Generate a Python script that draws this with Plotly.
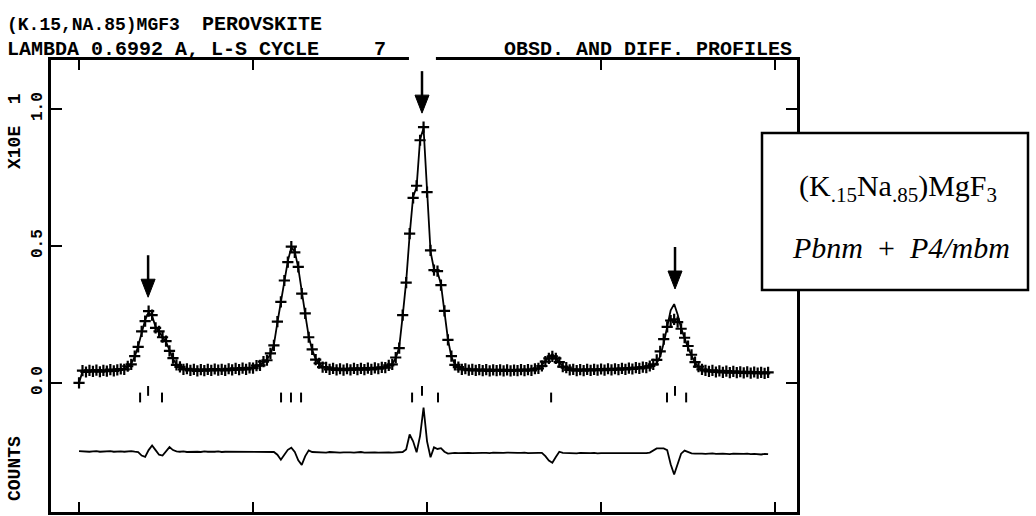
import plotly.graph_objects as go

# Step scan: first position and constant step (one major x tick per unit)
SCAN_START = 0.0
SCAN_STEP = 0.02

# Observed profile (counts x10)
obs_counts = [
    0.000,
    0.045, 0.040, 0.046, 0.042, 0.047, 0.041, 0.046, 0.043, 0.049, 0.044, 0.048,
    0.051, 0.050, 0.061, 0.068, 0.098, 0.132, 0.188, 0.226, 0.262, 0.248,
    0.201, 0.188, 0.167, 0.153, 0.117, 0.091, 0.066, 0.059, 0.050, 0.052,
    0.046, 0.050, 0.044, 0.049, 0.045, 0.050, 0.046, 0.051, 0.047, 0.050,
    0.046, 0.052, 0.048, 0.053, 0.049, 0.054, 0.050, 0.055,
    0.054, 0.063, 0.064, 0.078, 0.083, 0.108, 0.137, 0.224, 0.296, 0.374,
    0.441, 0.498, 0.477, 0.424, 0.326, 0.254, 0.167, 0.123, 0.085, 0.072,
    0.058, 0.057, 0.050,
    0.053, 0.048, 0.052, 0.047, 0.052, 0.048, 0.053, 0.049, 0.053, 0.049,
    0.054, 0.050, 0.055, 0.052,
    0.057, 0.056, 0.064, 0.068, 0.093, 0.127, 0.248, 0.366, 0.545, 0.676,
    0.720, 0.886, 0.934, 0.697, 0.484, 0.412, 0.408, 0.357, 0.263, 0.157,
    0.098, 0.066, 0.058, 0.050,
    0.052, 0.047, 0.050, 0.046, 0.049, 0.045, 0.049, 0.044, 0.048, 0.045,
    0.048, 0.044, 0.048, 0.044, 0.047, 0.045, 0.049, 0.045, 0.049, 0.046,
    0.052, 0.053, 0.062, 0.078, 0.090, 0.097, 0.090, 0.076, 0.060, 0.056, 0.048,
    0.050, 0.045, 0.049, 0.045, 0.050, 0.046, 0.050, 0.047, 0.051, 0.047,
    0.052, 0.048, 0.052, 0.049, 0.053, 0.050, 0.054, 0.051,
    0.056, 0.053, 0.058, 0.056, 0.062, 0.068, 0.084, 0.115, 0.160, 0.205,
    0.228, 0.232, 0.222, 0.198, 0.165, 0.135, 0.103, 0.076, 0.060, 0.050, 0.046,
    0.042, 0.046, 0.040, 0.044, 0.039, 0.043, 0.038, 0.042, 0.038, 0.041,
    0.037, 0.041, 0.036, 0.040, 0.036, 0.039, 0.035, 0.039,
]

# Calculated profile (counts x10)
calc_counts = [
    0.000,
    0.042, 0.043, 0.043, 0.044, 0.044, 0.044, 0.045, 0.045, 0.046, 0.046, 0.047,
    0.048, 0.052, 0.058, 0.070, 0.095, 0.135, 0.185, 0.230, 0.258, 0.245,
    0.205, 0.185, 0.170, 0.150, 0.120, 0.088, 0.068, 0.057, 0.052, 0.049,
    0.048, 0.047, 0.047, 0.047, 0.047, 0.047, 0.048, 0.048, 0.048, 0.048,
    0.049, 0.049, 0.049, 0.050, 0.050, 0.051, 0.052, 0.053,
    0.056, 0.060, 0.066, 0.075, 0.085, 0.105, 0.140, 0.220, 0.300, 0.370,
    0.445, 0.495, 0.480, 0.420, 0.330, 0.250, 0.170, 0.120, 0.088, 0.070,
    0.060, 0.055, 0.052,
    0.051, 0.050, 0.050, 0.050, 0.050, 0.050, 0.050, 0.051, 0.051, 0.051,
    0.052, 0.052, 0.053, 0.054,
    0.055, 0.058, 0.062, 0.070, 0.090, 0.130, 0.245, 0.370, 0.540, 0.680,
    0.715, 0.890, 0.930, 0.700, 0.480, 0.415, 0.405, 0.360, 0.260, 0.160,
    0.095, 0.068, 0.056, 0.052,
    0.050, 0.049, 0.048, 0.048, 0.047, 0.047, 0.047, 0.047, 0.047, 0.046,
    0.046, 0.046, 0.046, 0.046, 0.046, 0.046, 0.047, 0.047, 0.047, 0.048,
    0.050, 0.055, 0.065, 0.080, 0.095, 0.105, 0.092, 0.075, 0.062, 0.054, 0.050,
    0.048, 0.047, 0.047, 0.047, 0.048, 0.048, 0.048, 0.049, 0.049, 0.049,
    0.050, 0.050, 0.050, 0.051, 0.051, 0.052, 0.052, 0.053,
    0.054, 0.055, 0.056, 0.058, 0.060, 0.064, 0.072, 0.098, 0.145, 0.205,
    0.265, 0.288, 0.250, 0.200, 0.160, 0.128, 0.100, 0.075, 0.058, 0.049, 0.045,
    0.044, 0.043, 0.042, 0.042, 0.041, 0.041, 0.040, 0.040, 0.040, 0.039,
    0.039, 0.039, 0.038, 0.038, 0.038, 0.037, 0.037, 0.037,
]

# Difference curve, plotted below the profile
diff_counts = [
    -0.249, -0.250, -0.249, -0.251, -0.250, -0.249, -0.251, -0.250, -0.250,
    -0.249, -0.251, -0.250, -0.250, -0.251, -0.250, -0.249, -0.251, -0.252,
    -0.265, -0.270, -0.245, -0.228, -0.245, -0.262, -0.265, -0.250, -0.234,
    -0.245, -0.250,
    -0.251, -0.250, -0.252, -0.251, -0.250, -0.251, -0.252, -0.250, -0.251,
    -0.252, -0.251, -0.250, -0.252, -0.251, -0.251, -0.252, -0.250, -0.251,
    -0.252, -0.251, -0.250, -0.252, -0.251, -0.251, -0.252, -0.250, -0.251,
    -0.252,
    -0.262, -0.280, -0.262, -0.244, -0.236, -0.252, -0.282, -0.299, -0.267,
    -0.246, -0.252,
    -0.253, -0.252, -0.253, -0.254, -0.252, -0.253, -0.252, -0.254, -0.253,
    -0.252, -0.253, -0.254, -0.253, -0.252, -0.254, -0.253, -0.252, -0.253,
    -0.254, -0.253, -0.252, -0.253, -0.254, -0.253, -0.253, -0.252,
    -0.243, -0.188, -0.213, -0.253, -0.193, -0.090, -0.213, -0.271, -0.235,
    -0.241, -0.238, -0.251, -0.258,
    -0.256, -0.255, -0.256, -0.255, -0.254, -0.255, -0.256, -0.255, -0.254,
    -0.255, -0.255, -0.256, -0.254, -0.255, -0.256, -0.255, -0.254, -0.255,
    -0.256, -0.255, -0.255, -0.254, -0.256, -0.255, -0.254, -0.255, -0.255,
    -0.267, -0.283, -0.291, -0.270, -0.251, -0.255,
    -0.256, -0.255, -0.256, -0.257, -0.255, -0.256, -0.257, -0.256, -0.255,
    -0.257, -0.256, -0.256, -0.257, -0.255, -0.256, -0.257, -0.256, -0.256,
    -0.257, -0.255, -0.256, -0.257, -0.256, -0.256, -0.254,
    -0.247, -0.239, -0.239, -0.239, -0.245, -0.297, -0.334, -0.297, -0.258,
    -0.247, -0.251, -0.257,
    -0.258, -0.257, -0.258, -0.259, -0.258, -0.257, -0.259, -0.258, -0.258,
    -0.259, -0.260, -0.258, -0.259, -0.260, -0.259, -0.258, -0.260, -0.259,
    -0.260, -0.261, -0.259, -0.260,
]

# Reflection positions of the two phases
pbnm_refl = [0.351, 0.477, 1.161, 1.218, 1.276, 1.914, 2.063, 2.713, 3.379, 3.489]
p4mbm_refl = [0.397, 1.971, 3.425]

x_tick_vals = [0, 1, 2, 3, 4]
y_tick_vals = [0.0, 0.5, 1.0]
y_tick_text = ["0.0", "0.5", "1.0"]

x_scan = [round(SCAN_START + i * SCAN_STEP, 2) for i in range(len(obs_counts))]

# ---- page geometry -------------------------------------------------------
W, H = 1036, 516
ML, MR, MT, MB = 51, 239, 60, 4
PW, PH = W - ML - MR, H - MT - MB


def fx(px):
    return (px - ML) / PW


def fy(py):
    return (H - MB - py) / PH


INK = "black"
MONO = "Liberation Mono"
SERIF = "Liberation Serif"

fig = go.Figure()

fig.add_trace(go.Scatter(
    x=x_scan, y=calc_counts, mode="lines", name="calc",
    line=dict(color=INK, width=1.8),
))
fig.add_trace(go.Scatter(
    x=x_scan, y=obs_counts, mode="markers", name="obs",
    marker=dict(symbol="cross-thin", size=8, line=dict(width=2.2, color=INK)),
))
fig.add_trace(go.Scatter(
    x=x_scan, y=diff_counts, mode="lines", name="diff",
    line=dict(color=INK, width=1.8),
))

# reflection tick rows
PBNM_ROW = -0.053
P4_ROW = -0.029
fig.add_trace(go.Scatter(
    x=pbnm_refl, y=[PBNM_ROW] * len(pbnm_refl), mode="markers", name="Pbnm",
    marker=dict(symbol="line-ns", size=7, line=dict(width=2, color=INK)),
))
fig.add_trace(go.Scatter(
    x=p4mbm_refl, y=[P4_ROW] * len(p4mbm_refl), mode="markers", name="P4/mbm",
    marker=dict(symbol="line-ns", size=7, line=dict(width=2, color=INK)),
))

annotations = []
shapes = []

# break in the top frame line behind the central arrow
shapes.append(dict(
    type="rect", xref="x", yref="paper",
    x0=p4mbm_refl[1] - 0.075, x1=p4mbm_refl[1] + 0.08, y0=0.97, y1=1.03,
    fillcolor="white", line=dict(width=0), layer="above",
))

# arrows marking the P4/mbm reflections (pixel lengths above the tip)
ARROW_GAP = 0.055
for pos in p4mbm_refl:
    near = [c for x, c in zip(x_scan, calc_counts) if abs(x - pos) <= 0.06]
    tip = max(near) + ARROW_GAP
    shapes.append(dict(
        type="line", xref="x", yref="y", ysizemode="pixel", yanchor=tip,
        x0=pos, x1=pos, y0=14, y1=42,
        line=dict(color=INK, width=2.5), layer="above",
    ))
    shapes.append(dict(
        type="path", xref="x", yref="y", xsizemode="pixel", ysizemode="pixel",
        xanchor=pos, yanchor=tip, path="M-7,18 L7,18 L0,0 Z",
        fillcolor=INK, line=dict(color=INK, width=1), layer="above",
    ))

# header lines
def head_font(size):
    return dict(family=MONO, size=size, color=INK, weight="bold")


for txt, px, py, size in [
    ("(K.15,NA.85)MGF3", 5, 25, 18),
    ("PEROVSKITE", 200, 25, 20),
    ("LAMBDA 0.6992 A, L-S CYCLE", 5, 49, 20),
    ("7", 372, 49, 20),
    ("OBSD. AND DIFF. PROFILES", 502, 49, 20),
]:
    annotations.append(dict(
        x=fx(px), y=fy(py), xref="paper", yref="paper", text=txt,
        showarrow=False, xanchor="left", yanchor="middle", font=head_font(size),
    ))

# rotated axis captions
cap_font = dict(family=MONO, size=18, color=INK, weight="bold")
for txt, py in [("X10E\u00a0\u00a01", 131), ("COUNTS", 469)]:
    annotations.append(dict(
        x=fx(15), y=fy(py), xref="paper", yref="paper", text=txt,
        showarrow=False, textangle=-90, xanchor="center", yanchor="middle",
        font=cap_font,
    ))

# phase box
shapes.append(dict(
    type="rect", xref="paper", yref="paper",
    x0=fx(762), x1=fx(1028), y0=fy(290), y1=fy(133),
    fillcolor="white", line=dict(color=INK, width=2.5), layer="above",
))
box_font = dict(family=SERIF, size=30, color=INK)
annotations.append(dict(
    x=fx(898), y=fy(188), xref="paper", yref="paper",
    text="(K<sub>.15</sub>Na<sub>.85</sub>)MgF<sub>3</sub>",
    showarrow=False, xanchor="center", yanchor="middle", font=box_font,
))
annotations.append(dict(
    x=fx(901), y=fy(247), xref="paper", yref="paper",
    text="<i>Pbnm</i>\u00a0\u00a0+\u00a0\u00a0<i>P4/mbm</i>",
    showarrow=False, xanchor="center", yanchor="middle", font=box_font,
))

axis_common = dict(
    showgrid=False, zeroline=False, showline=True, linewidth=2.5,
    linecolor=INK, mirror="ticks", ticks="inside", tickwidth=2,
    tickcolor=INK,
)

fig.update_layout(
    width=W, height=H,
    margin=dict(l=ML, r=MR, t=MT, b=MB),
    paper_bgcolor="white", plot_bgcolor="white",
    showlegend=False,
    xaxis=dict(
        range=[-0.161, 4.126], tickvals=x_tick_vals, showticklabels=False,
        ticklen=10, **axis_common,
    ),
    yaxis=dict(
        range=[-0.471, 1.179], tickvals=y_tick_vals, ticktext=y_tick_text,
        tickangle=-90, ticklen=11,
        tickfont=dict(family=MONO, size=16, color=INK, weight="bold"),
        **axis_common,
    ),
    annotations=annotations,
    shapes=shapes,
)

fig.write_html("out.html")
